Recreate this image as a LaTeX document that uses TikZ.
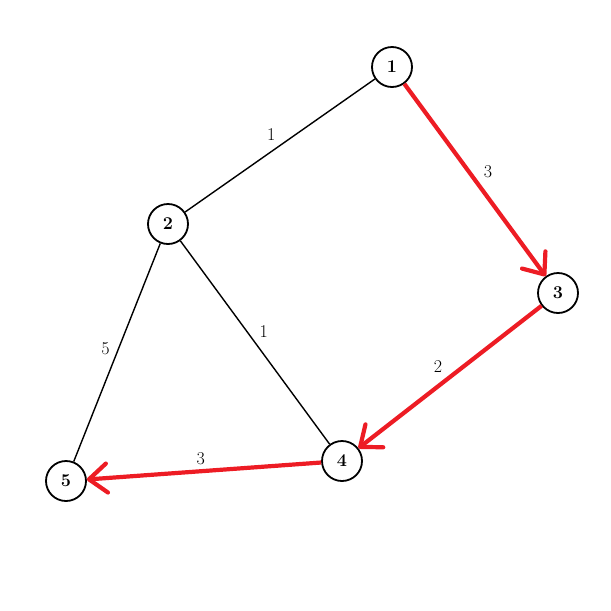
\documentclass[tikz,border=0pt]{standalone}
\usepackage{fontspec}
\usetikzlibrary{arrows.meta}

\begin{document}
\begin{tikzpicture}[x=1pt,y=-1pt,
    vertex/.style={circle,draw,line width=1.8pt,minimum size=40pt,inner sep=0pt,
      font=\fontsize{18}{21}\selectfont\bfseries},
    plain/.style={line width=1.4pt},
    chosen/.style={draw={rgb,255:red,237;green,28;blue,36},line width=4.2pt,
      -{Straight Barb[length=18pt,width=29pt,line cap=round,line join=round]}},
    weight/.style={auto,inner sep=4pt,font=\fontsize{18}{21}\selectfont}]
    \useasboundingbox (0,0) rectangle (611,611);
    \node[vertex] (one) at (392,67) {1};
    \node[vertex] (two) at (168,224) {2};
    \node[vertex] (three) at (558,293) {3};
    \node[vertex] (four) at (342,461) {4};
    \node[vertex] (five) at (66,481) {5};
    \draw[plain] (two) -- node[weight] {1} (one);
    \draw[plain] (two) -- node[weight] {1} (four);
    \draw[plain] (two) -- node[weight,swap,pos=0.53] {5} (five);
    \draw[chosen] (one) -- node[weight,pos=0.52,text=black] {3} (three);
    \draw[chosen] (three) -- node[weight,swap,pos=0.51,text=black] {2} (four);
    \draw[chosen] (four) -- node[weight,swap,pos=0.47,text=black] {3} (five);
\end{tikzpicture}
\end{document}
